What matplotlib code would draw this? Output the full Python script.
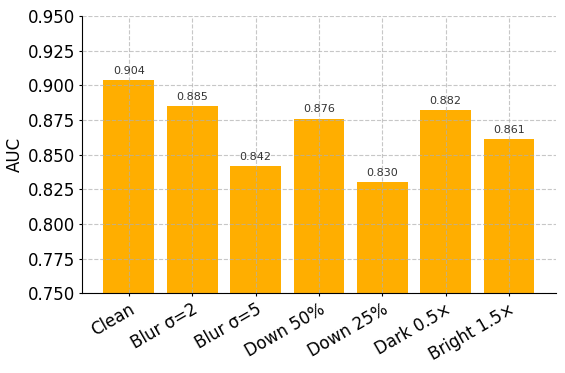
import matplotlib.pyplot as plt
from matplotlib.ticker import MultipleLocator

conditions = ["Clean", "Blur σ=2", "Blur σ=5", "Down 50%", "Down 25%", "Dark 0.5×", "Bright 1.5×"]
auc = [0.904, 0.885, 0.842, 0.876, 0.830, 0.882, 0.861]

fig, ax = plt.subplots(figsize=(5.65, 3.73), dpi=100)
fig.subplots_adjust(left=0.145, right=0.984, top=0.957, bottom=0.214)

bars = ax.bar(conditions, auc, color="#FFAE00", width=0.8)
for b, v in zip(bars, auc):
    ax.text(b.get_x() + b.get_width() / 2, v + 0.003, f"{v:.3f}",
            ha="center", va="bottom", fontsize=8, color="#333333")

ax.set_ylim(0.75, 0.95)
ax.yaxis.set_major_locator(MultipleLocator(0.025))
ax.set_ylabel("AUC", fontsize=12, labelpad=3)
ax.tick_params(axis="both", labelsize=12, length=2.5, pad=2.5)
plt.setp(ax.get_xticklabels(), rotation=30, ha="right", rotation_mode="anchor")
ax.grid(True, linestyle="--", color="#b0b0b0", alpha=0.7, linewidth=0.8)
ax.set_axisbelow(False)
ax.spines["top"].set_visible(False)
ax.spines["right"].set_visible(False)

plt.savefig("out.png", dpi=100)
plt.close()
